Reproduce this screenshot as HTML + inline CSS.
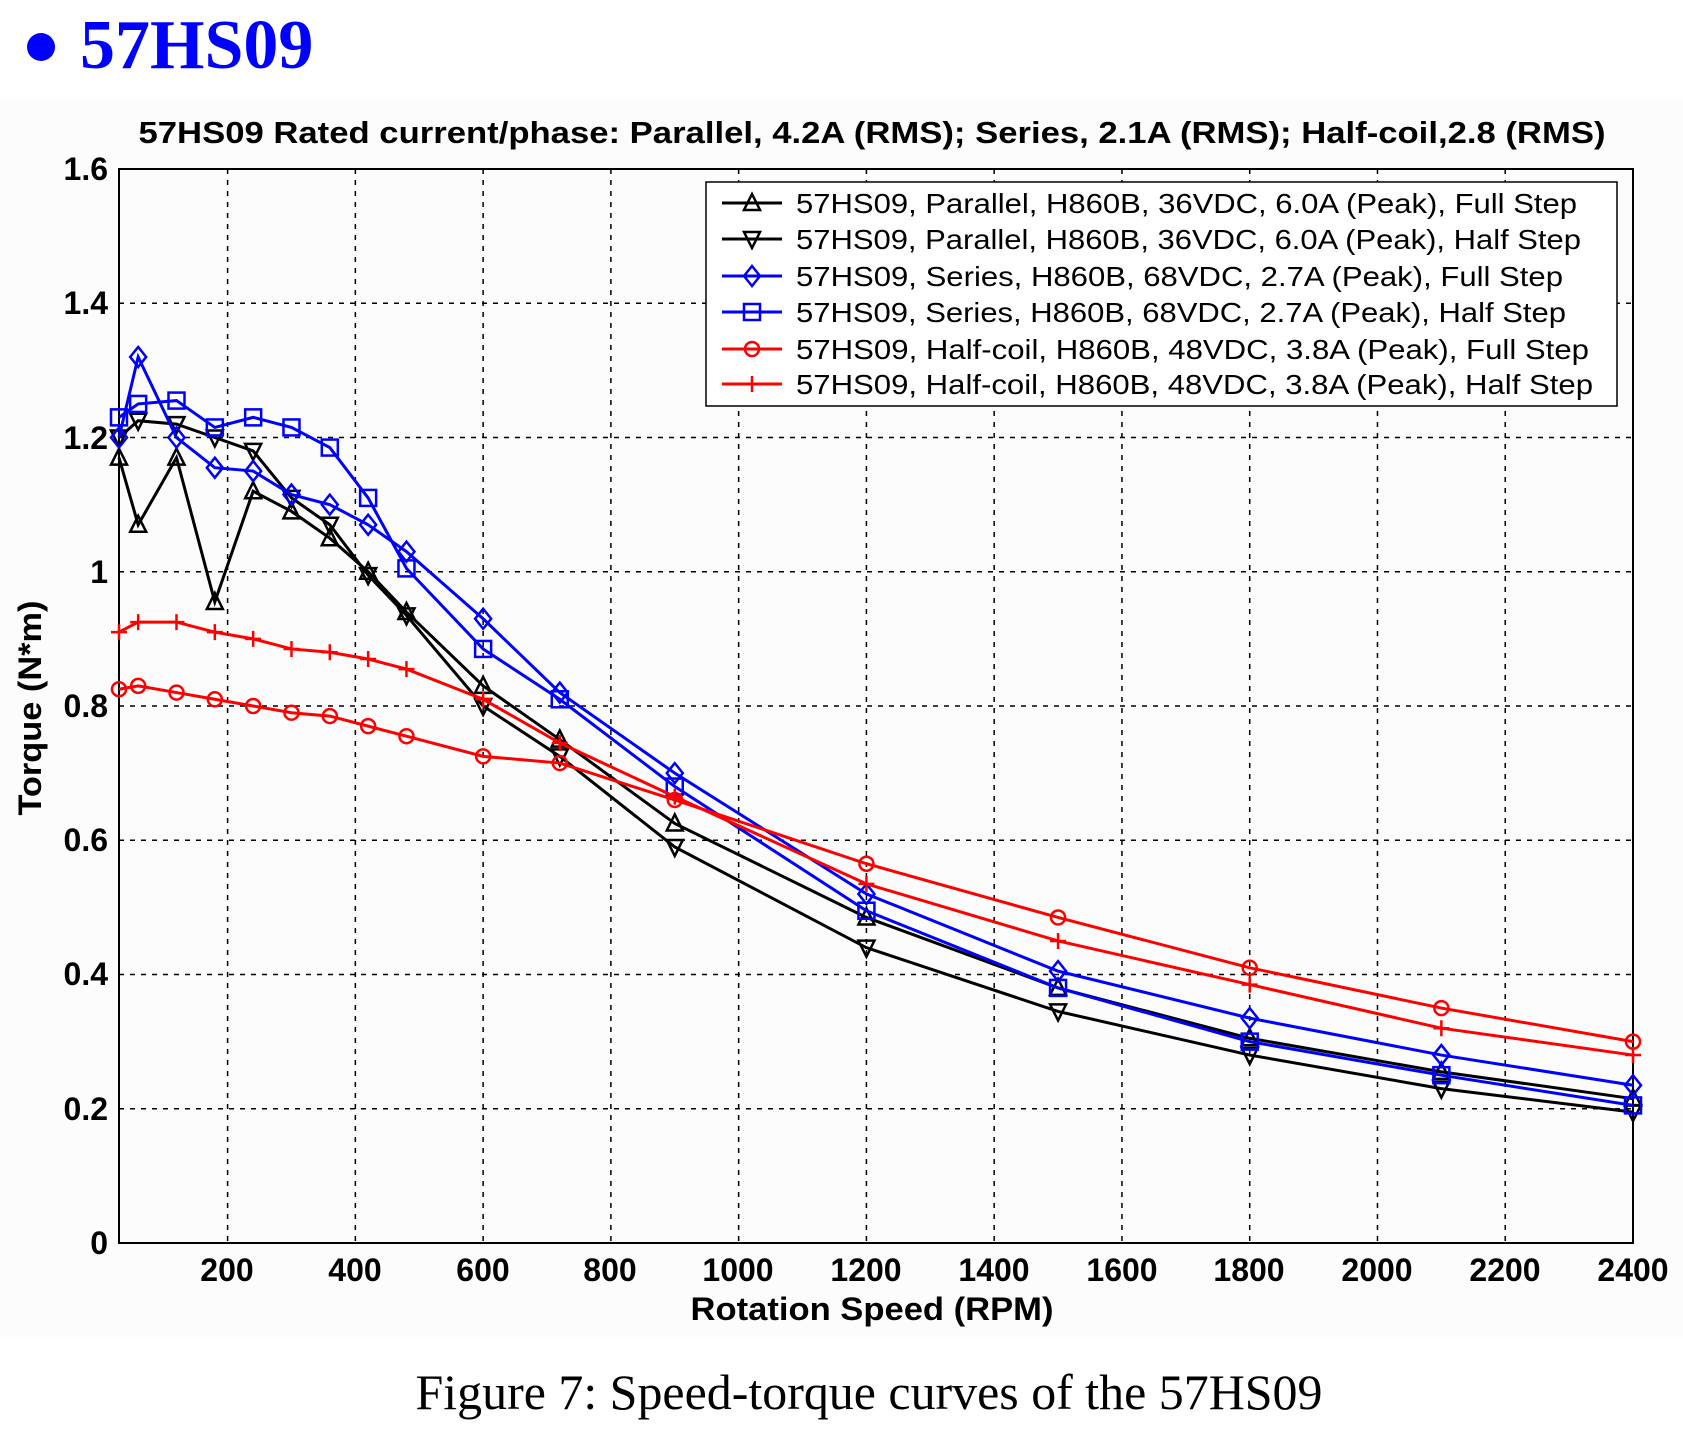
<!DOCTYPE html>
<html><head><meta charset="utf-8"><style>
html,body{margin:0;padding:0;background:#fff;}
svg{display:block}
</style></head><body>
<svg id="s" width="1683" height="1432" xmlns="http://www.w3.org/2000/svg">
<rect x="0" y="97" width="1683" height="1240" fill="#fcfcfc"/>
<circle cx="41" cy="47" r="14" fill="#0000ff"/>
<text x="80" y="68" font-family="Liberation Serif, serif" font-weight="bold" font-size="70" fill="#0000ff">57HS09</text>
<text x="872" y="143" text-anchor="middle" font-family="Liberation Sans, sans-serif" font-weight="bold" font-size="31" textLength="1467" lengthAdjust="spacingAndGlyphs">57HS09 Rated current/phase: Parallel, 4.2A (RMS); Series, 2.1A (RMS); Half-coil,2.8 (RMS)</text>
<g id="grid" stroke="#000" stroke-width="1.5" stroke-dasharray="5,6"></g>
<rect x="119" y="169" width="1514" height="1074" fill="none" stroke="#000" stroke-width="2"/>
<g font-family="Liberation Sans, sans-serif" font-weight="bold" font-size="32" text-anchor="end">
<text x="108" y="1254">0</text><text x="108" y="1120">0.2</text><text x="108" y="985">0.4</text><text x="108" y="851">0.6</text><text x="108" y="717">0.8</text><text x="108" y="583">1</text><text x="108" y="449">1.2</text><text x="108" y="314">1.4</text><text x="108" y="180">1.6</text>
</g>
<g font-family="Liberation Sans, sans-serif" font-weight="bold" font-size="32" text-anchor="middle">
<text x="227" y="1281">200</text><text x="355" y="1281">400</text><text x="483" y="1281">600</text><text x="610" y="1281">800</text><text x="738" y="1281">1000</text><text x="866" y="1281">1200</text><text x="994" y="1281">1400</text><text x="1122" y="1281">1600</text><text x="1249" y="1281">1800</text><text x="1377" y="1281">2000</text><text x="1505" y="1281">2200</text><text x="1633" y="1281">2400</text>
<text x="872" y="1320" textLength="363" lengthAdjust="spacingAndGlyphs">Rotation Speed (RPM)</text>
<text transform="translate(41,708) rotate(-90)" textLength="215" lengthAdjust="spacingAndGlyphs">Torque (N*m)</text>
</g>
<g id="series"></g>
<rect x="706" y="182" width="911" height="224" fill="#fff" stroke="#000" stroke-width="1.5"/>
<g id="leg"></g>
<g font-family="Liberation Sans, sans-serif" font-size="28" lengthAdjust="spacingAndGlyphs">
<text x="796" y="213" textLength="781" lengthAdjust="spacingAndGlyphs">57HS09, Parallel, H860B, 36VDC, 6.0A (Peak), Full Step</text>
<text x="796" y="249" textLength="785" lengthAdjust="spacingAndGlyphs">57HS09, Parallel, H860B, 36VDC, 6.0A (Peak), Half Step</text>
<text x="796" y="286" textLength="767" lengthAdjust="spacingAndGlyphs">57HS09, Series, H860B, 68VDC, 2.7A (Peak), Full Step</text>
<text x="796" y="322" textLength="770" lengthAdjust="spacingAndGlyphs">57HS09, Series, H860B, 68VDC, 2.7A (Peak), Half Step</text>
<text x="796" y="359" textLength="793" lengthAdjust="spacingAndGlyphs">57HS09, Half-coil, H860B, 48VDC, 3.8A (Peak), Full Step</text>
<text x="796" y="394" textLength="797" lengthAdjust="spacingAndGlyphs">57HS09, Half-coil, H860B, 48VDC, 3.8A (Peak), Half Step</text>
</g>
<text x="869" y="1409" text-anchor="middle" font-family="Liberation Serif, serif" font-size="50" textLength="907" lengthAdjust="spacingAndGlyphs">Figure 7: Speed-torque curves of the 57HS09</text>
</svg>
<script>
var NS="http://www.w3.org/2000/svg";
function X(r){return 119+(r-30)*1514/2370;}
function Y(v){return 1243-v*671.25;}
function el(t,a,p){var e=document.createElementNS(NS,t);for(var k in a)e.setAttribute(k,a[k]);p.appendChild(e);return e;}
var g=document.getElementById('grid');
for(var r=200;r<=2200;r+=200)el('line',{x1:X(r),x2:X(r),y1:169,y2:1243},g);
for(var v=0.2;v<1.59;v+=0.2)el('line',{x1:119,x2:1633,y1:Y(v),y2:Y(v)},g);
var R=[30,60,120,180,240,300,360,420,480,600,720,900,1200,1500,1800,2100,2400];
var S=[
["#000","up",[1.17,1.07,1.17,0.955,1.12,1.09,1.05,1.0,0.94,0.83,0.75,0.625,0.485,0.38,0.305,0.255,0.215]],
["#000","dn",[1.2,1.225,1.22,1.2,1.18,1.11,1.07,0.995,0.935,0.80,0.725,0.59,0.44,0.345,0.28,0.23,0.195]],
["#0000ff","di",[1.2,1.32,1.2,1.155,1.15,1.115,1.1,1.07,1.03,0.93,0.82,0.70,0.52,0.405,0.335,0.28,0.235]],
["#0000ff","sq",[1.23,1.25,1.255,1.215,1.23,1.215,1.185,1.11,1.005,0.885,0.81,0.68,0.495,0.38,0.3,0.25,0.205]],
["#ff0000","ci",[0.825,0.83,0.82,0.81,0.8,0.79,0.785,0.77,0.755,0.725,0.715,0.66,0.565,0.485,0.41,0.35,0.3]],
["#ff0000","pl",[0.91,0.925,0.925,0.91,0.9,0.885,0.88,0.87,0.855,0.81,0.745,0.665,0.535,0.45,0.385,0.32,0.28]]];
function mk(t,x,y,c,p){var a={fill:"none",stroke:c,"stroke-width":2.5};
if(t=="up"){a.points=(x-8)+","+(y+7)+" "+(x+8)+","+(y+7)+" "+x+","+(y-9);el('polygon',a,p);}
if(t=="dn"){a.points=(x-8)+","+(y-7)+" "+(x+8)+","+(y-7)+" "+x+","+(y+9);el('polygon',a,p);}
if(t=="di"){a.points=x+","+(y-10)+" "+(x+8)+","+y+" "+x+","+(y+10)+" "+(x-8)+","+y;el('polygon',a,p);}
if(t=="sq"){a.x=x-8;a.y=y-8;a.width=16;a.height=16;el('rect',a,p);}
if(t=="ci"){a.cx=x;a.cy=y;a.r=7;el('circle',a,p);}
if(t=="pl"){a.d="M"+(x-8)+" "+y+"H"+(x+8)+"M"+x+" "+(y-8)+"V"+(y+8);el('path',a,p);}}
var sg=document.getElementById('series'),lg=document.getElementById('leg');
var ly=[203,239,276,312,349,384];
S.forEach(function(s,i){var pts=R.map(function(r,j){return X(r)+","+Y(s[2][j]);}).join(" ");
el('polyline',{points:pts,fill:"none",stroke:s[0],"stroke-width":3},sg);
R.forEach(function(r,j){mk(s[1],X(r),Y(s[2][j]),s[0],sg);});
el('line',{x1:722,x2:782,y1:ly[i],y2:ly[i],stroke:s[0],"stroke-width":3},lg);mk(s[1],752,ly[i],s[0],lg);});
</script>
</body></html>
